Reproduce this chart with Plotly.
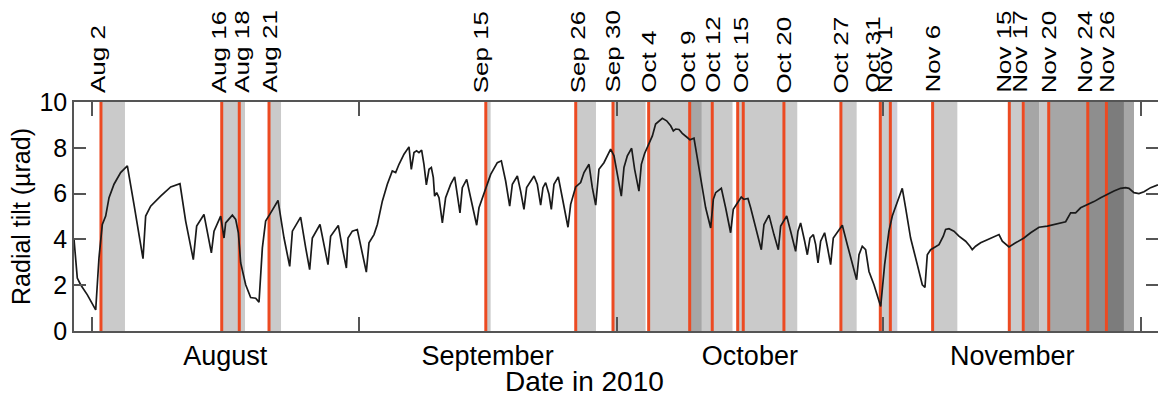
import pandas as pd
import plotly.graph_objects as go

# ---------------- data ----------------
T0 = pd.Timestamp("2010-08-01")

# time in days since 2010-08-01 00:00, radial tilt in microradians
tilt_day = [
    -2.09, -1.71, -1.32, -0.54, 0.43, 0.81, 1.20, 1.59, 1.98, 2.56, 3.33, 4.11,
    4.88, 5.66, 5.93, 6.24, 6.82, 7.98, 9.15, 10.23, 10.89, 11.78, 12.17, 13.02,
    13.88, 14.19, 14.96, 15.35, 15.54, 16.32, 16.71, 17.02, 17.29, 17.87, 18.45,
    19.03, 19.42, 19.81, 20.19, 20.78, 21.63, 22.33, 22.99, 23.30, 24.26, 24.85,
    25.31, 25.62, 26.51, 27.05, 27.44, 27.75, 28.64, 29.11, 29.58,
    29.77, 30.27, 30.85, 31.43, 31.90, 32.21, 32.79, 33.18, 33.76, 34.34, 34.92,
    35.31, 35.70, 36.28, 36.86, 37.13, 37.44, 37.75, 38.02, 38.33, 38.60, 38.88,
    39.19, 39.46, 39.69, 39.84, 40.08, 40.35, 40.74, 41.12, 41.71, 42.17, 42.48,
    42.79, 43.06, 43.57, 44.03, 44.73, 45.00, 45.58, 46.36, 47.13, 47.60, 48.10,
    48.57, 48.88, 49.46, 49.84, 50.23, 50.54, 51.40, 51.78, 52.17, 52.44, 52.75,
    53.14, 53.41, 53.72, 54.22, 54.69, 55.35, 55.66, 56.24, 56.82, 57.21, 57.79,
    58.18, 58.57, 58.95, 59.53, 60.31, 60.70, 60.93,
    61.55, 61.86, 62.25, 62.75, 63.10, 63.60, 63.88, 64.26, 64.69, 65.16, 65.54,
    65.93, 66.32, 66.82, 67.29, 67.60, 67.87, 68.26, 68.64, 69.22, 69.53, 70.00,
    70.19, 70.58, 70.97, 71.36, 71.94, 72.25, 72.52, 73.18, 73.68, 74.26, 74.57,
    75.04, 75.50, 75.81, 76.28, 76.59, 77.17, 77.83, 78.14, 78.72, 79.30, 79.81,
    80.08, 80.78, 81.24, 81.82, 82.09, 82.40, 82.87, 83.18, 83.49, 83.88, 84.15,
    84.42, 84.73, 85.19, 85.50, 85.89, 86.20, 86.74, 87.25, 87.83, 88.41, 88.91,
    89.19, 89.57, 89.96, 90.35, 90.93, 91.71, 92.17,
    92.67, 93.06, 93.64, 94.22, 94.61, 95.19, 95.97, 96.55, 96.86, 97.13, 97.52,
    97.91, 98.49, 98.99, 99.26, 99.65, 100.23, 100.81, 101.59, 102.09, 102.36,
    102.75, 103.33, 103.92, 104.50, 105.08, 105.47, 105.85, 106.63, 107.40,
    108.37, 109.15, 110.12, 111.09, 111.86, 112.44, 113.22, 113.80, 114.38,
    114.96, 115.74, 116.51, 117.29, 118.06, 118.84, 119.61, 120.19, 120.58,
    121.16, 121.74, 122.33, 123.10, 123.95,
]
tilt_urad = [
    3.99, 2.31, 2.02, 1.58, 0.92, 3.19, 4.65, 5.02, 5.82, 6.41, 6.92, 7.21,
    5.53, 3.77, 3.16, 5.02, 5.45, 5.89, 6.29, 6.43, 4.80, 3.12, 4.58, 5.09,
    3.41, 4.36, 5.02, 4.06, 4.72, 5.06, 4.87, 4.29, 2.97, 2.02, 1.46,
    1.43, 1.26, 3.63, 4.80, 5.16, 5.70, 4.06, 2.82, 4.36, 4.97, 3.63,
    2.68, 4.06, 4.65, 3.63, 2.90, 4.14, 4.61, 3.63, 2.75,
    4.06, 4.36, 4.43, 3.33, 2.57, 3.85, 4.21, 4.65, 5.67, 6.41, 6.99,
    6.92, 7.28, 7.72, 8.04, 7.06, 7.79, 7.87, 7.79, 7.90, 7.28, 6.38,
    7.06, 7.14, 6.70, 5.89, 6.04, 5.82, 4.72, 5.82, 6.41, 6.73, 5.97,
    5.16, 6.26, 6.62, 5.82, 4.62, 5.38, 6.04, 6.84, 7.35, 7.43, 6.55,
    5.45, 6.41, 6.77, 6.11, 5.31, 6.26, 6.77, 6.41, 5.50, 6.26, 6.48,
    5.97, 5.31, 6.41, 6.73, 5.82, 4.53, 5.53, 6.29, 6.48, 6.92, 7.28,
    6.26, 5.50, 7.06, 7.35, 7.94, 7.65, 7.21,
    5.89, 7.14, 7.65, 7.98, 7.06, 6.11, 7.28, 7.75, 8.09, 8.52, 9.04,
    9.15, 9.29, 9.18, 8.96, 8.74, 8.82, 8.80, 8.63, 8.45, 8.35, 8.42,
    8.01, 7.06, 6.26, 5.38, 4.50, 5.75, 6.04, 6.23, 5.38, 4.29, 5.31,
    5.60, 5.85, 5.75, 5.79, 5.38, 4.50, 3.55, 4.65, 5.06, 4.21, 3.55,
    4.58, 5.02, 4.36, 3.48, 4.36, 4.72, 3.92, 3.33, 4.06, 4.21, 3.77,
    2.97, 3.92, 4.29, 3.70, 2.90, 4.06, 4.36, 4.62, 3.77, 2.90, 2.24,
    3.33, 3.70, 3.55, 2.60, 2.02, 1.07, 2.90,
    4.36, 5.02, 5.67, 6.23, 5.38, 4.06, 2.90, 2.02, 1.90, 3.33, 3.55,
    3.63, 3.77, 4.14, 4.43, 4.47, 4.36, 4.14, 3.92, 3.70, 3.55,
    3.70, 3.85, 3.95, 4.06, 4.14, 4.21, 3.92, 3.67, 3.85,
    4.06, 4.29, 4.53, 4.58, 4.65, 4.68, 4.77, 5.16, 5.16,
    5.38, 5.50, 5.65, 5.82, 5.97, 6.11, 6.23, 6.26, 6.23,
    6.04, 6.00, 6.08, 6.26, 6.38,
]

# event times (red lines)
event_times = [
    "2010-08-02 01:00", "2010-08-16 02:00", "2010-08-18 03:00", "2010-08-21 14:00",
    "2010-09-15 19:00", "2010-09-26 06:00", "2010-09-30 14:00", "2010-10-04 17:30",
    "2010-10-09 12:00", "2010-10-12 03:00", "2010-10-15 02:00", "2010-10-15 17:30",
    "2010-10-20 11:00", "2010-10-27 02:00", "2010-10-31 16:00", "2010-11-01 20:00",
    "2010-11-06 18:00", "2010-11-15 16:00", "2010-11-17 07:00", "2010-11-20 06:00",
    "2010-11-24 19:00", "2010-11-26 23:00",
]
# event labels along the top
label_text = [
    "Aug 2", "Aug 16", "Aug 18", "Aug 21", "Sep 15", "Sep 26", "Sep 30", "Oct 4",
    "Oct 9", "Oct 12", "Oct 15", "Oct 20", "Oct 27", "Oct 31", "Nov 1", "Nov 6",
    "Nov 15", "Nov 17", "Nov 20", "Nov 24", "Nov 26",
]
label_times = [
    "2010-08-02 01:00", "2010-08-16 02:00", "2010-08-18 03:00", "2010-08-21 14:00",
    "2010-09-15 19:00", "2010-09-26 06:00", "2010-09-30 14:00", "2010-10-04 17:30",
    "2010-10-09 12:00", "2010-10-12 03:00", "2010-10-15 10:00", "2010-10-20 11:00",
    "2010-10-27 02:00", "2010-10-31 16:00", "2010-11-01 20:00", "2010-11-06 18:00",
    "2010-11-15 16:00", "2010-11-17 07:00", "2010-11-20 06:00", "2010-11-24 19:00",
    "2010-11-26 23:00",
]

# shaded periods
shade_start = [
    "2010-08-02 01:00", "2010-08-16 02:00", "2010-08-21 15:00", "2010-09-15 19:30",
    "2010-09-26 06:00", "2010-09-30 14:00", "2010-10-04 17:30", "2010-10-09 12:00",
    "2010-10-10 22:00", "2010-10-15 02:00", "2010-10-27 02:00", "2010-10-31 16:00",
    "2010-11-01 20:00", "2010-11-06 18:00", "2010-11-15 16:00", "2010-11-17 11:00",
    "2010-11-19 03:00", "2010-11-20 06:00", "2010-11-24 21:30", "2010-11-27 00:30",
    "2010-11-29 00:00",
]
shade_end = [
    "2010-08-04 20:00", "2010-08-18 19:00", "2010-08-22 23:30", "2010-09-16 08:30",
    "2010-09-28 14:30", "2010-10-04 09:00", "2010-10-09 12:00", "2010-10-10 22:00",
    "2010-10-14 11:30", "2010-10-22 00:15", "2010-10-28 22:00", "2010-11-01 20:00",
    "2010-11-02 15:30", "2010-11-09 15:00", "2010-11-17 11:00", "2010-11-19 03:00",
    "2010-11-20 06:00", "2010-11-24 21:30", "2010-11-27 00:30", "2010-11-29 00:00",
    "2010-11-30 04:00",
]
shade_level = [
    "light", "light", "light", "light",
    "light", "light", "light", "mid",
    "light", "light", "light", "light",
    "tint", "light", "light", "mid",
    "light", "mid", "dark", "darkest",
    "mid",
]

month_starts = ["2010-08-01", "2010-09-01", "2010-10-01", "2010-11-01", "2010-12-01"]
month_mid = ["2010-08-16 12:00", "2010-09-16", "2010-10-16 12:00", "2010-11-16"]
month_names = ["August", "September", "October", "November"]
y_ticks = [0, 2, 4, 6, 8, 10]
x_range = ["2010-07-29 21:45", "2010-12-02 23:00"]

# ---------------- styling ----------------
FONT = "Liberation Sans, Arial, Helvetica, sans-serif"
AX = "#555555"
RED = "#ec4a22"
SHADE_COLOR = {"light": "#cacaca", "mid": "#a6a6a6", "dark": "#8e8e8e",
               "darkest": "#7c7c7c", "tint": "#cfcfd9"}
LABEL_NUDGE = {"Aug 2": -3, "Aug 16": -3, "Aug 18": 2, "Sep 15": -5, "Sep 26": 2,
               "Oct 9": -2, "Oct 31": -8, "Nov 1": -5, "Nov 15": -6,
               "Nov 17": -4, "Nov 24": -3}

x_time = [T0 + pd.Timedelta(days=d) for d in tilt_day]

fig = go.Figure()
fig.add_trace(go.Scatter(x=x_time, y=tilt_urad, mode="lines",
                         line=dict(color="#1a1a1a", width=1.7),
                         showlegend=False, hoverinfo="skip"))
# helper (empty) traces so the overlay axes are drawn
fig.add_trace(go.Scatter(x=[], y=[], xaxis="x2", yaxis="y", showlegend=False))
fig.add_trace(go.Scatter(x=[], y=[], xaxis="x", yaxis="y2", showlegend=False))

for s, e, lv in zip(shade_start, shade_end, shade_level):
    fig.add_shape(type="rect", x0=s, x1=e, y0=0, y1=10, xref="x", yref="y",
                  fillcolor=SHADE_COLOR[lv], line_width=0, layer="below")
for t in event_times:
    fig.add_shape(type="line", x0=t, x1=t, y0=0, y1=10, xref="x", yref="y",
                  line=dict(color=RED, width=3), layer="below")
for txt, t in zip(label_text, label_times):
    fig.add_annotation(x=t, y=1, xref="x", yref="paper", text=txt,
                       textangle=-90, showarrow=False, xanchor="center",
                       yanchor="bottom", yshift=7, xshift=LABEL_NUDGE.get(txt, 0),
                       font=dict(family=FONT, size=20, color="black"))

fig.add_annotation(x=0.4714, y=0, xref="paper", yref="paper", text="Date in 2010",
                   showarrow=False, xanchor="center", yanchor="middle", yshift=-50,
                   font=dict(family=FONT, size=28, color="black"))

fig.update_layout(
    width=1158, height=398,
    margin=dict(l=74, r=0, t=102, b=67),
    paper_bgcolor="white", plot_bgcolor="white",
    font=dict(family=FONT, color="black"),
    xaxis=dict(type="date", range=x_range, tickvals=month_starts,
               showticklabels=False, ticks="inside", ticklen=14, tickcolor=AX,
               tickwidth=1.5, showline=True, linecolor=AX, linewidth=1.5,
               mirror="ticks", showgrid=False, zeroline=False),
    xaxis2=dict(type="date", range=x_range, overlaying="x", anchor="y",
                side="bottom", tickvals=month_mid, ticktext=month_names,
                ticks="", showline=False, showgrid=False, zeroline=False,
                tickfont=dict(size=27, family=FONT, color="black"),
                ticklabelstandoff=6),
    yaxis=dict(range=[0, 10], tickvals=y_ticks, ticks="inside", ticklen=12,
               tickcolor=AX, tickwidth=1.5, showline=True, linecolor=AX,
               linewidth=1.5, showgrid=False, zeroline=False,
               tickfont=dict(size=25, family=FONT, color="black"),
               title=dict(text="Radial tilt (µrad)", standoff=2,
                          font=dict(size=25, family=FONT, color="black"))),
    yaxis2=dict(range=[0, 10], overlaying="y", anchor="x", side="right",
                tickvals=y_ticks, ticks="inside", ticklen=12, tickcolor=AX,
                tickwidth=1.5, showticklabels=False, showline=False,
                showgrid=False, zeroline=False),
)

# the reference's rotated event labels are drawn with elongated glyphs;
# stretch only those labels along their reading direction (bottom end fixed)
N_LABELS = len(label_text)
STRETCH_JS = """
var gd = document.getElementById('{plot_id}');
gd.querySelectorAll('g.annotation').forEach(function(g){
  var idx = parseInt(g.getAttribute('data-index'));
  if (isNaN(idx) || idx >= %d) return;
  var t = g.querySelector('text.annotation-text');
  if (!t) return;
  t.style.transformBox = 'fill-box';
  t.style.transformOrigin = 'left center';
  t.style.transform = 'scaleX(1.3)';
});
""" % N_LABELS

fig.write_html("out.html", post_script=STRETCH_JS)
